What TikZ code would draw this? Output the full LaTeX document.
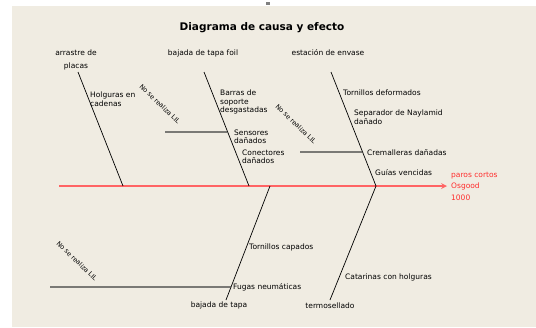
\documentclass[tikz,border=0pt]{standalone}
\usepackage{fontspec}
\setmainfont{DejaVu Sans}
\usetikzlibrary{arrows,shapes}
\usetikzlibrary{calc}
\definecolor{fondo}{RGB}{240,236,226}
\definecolor{rojo}{RGB}{255,100,100}
\definecolor{rojotexto}{RGB}{255,45,45}
\definecolor{gris}{RGB}{60,60,60}
\tikzstyle{causa}=[anchor=west,align=left,inner sep=0pt,font=\fontsize{7.5}{8.5}\selectfont]
\tikzstyle{rama}=[inner sep=0pt,font=\fontsize{7.5}{13}\selectfont]
\tikzstyle{nota}=[inner sep=0pt,rotate=-44,font=\fontsize{6.5}{8}\selectfont]
\tikzstyle{hueso} = [draw,black,line width=0.7pt]
\tikzstyle{subhueso} = [draw,gris,line width=1.1pt]
\tikzstyle{espina} = [draw,rojo,line width=1.6pt,->,>=stealth]

\begin{document}
\begin{tikzpicture}[x=1pt,y=-1pt]
    \useasboundingbox (0,0) rectangle (536,327);
    \fill[fondo] (12,6) rectangle (536,327);
    \fill[gray] (266,2) rectangle (270,5);

    \node[font=\bfseries\fontsize{10.5}{12}\selectfont] (titulo) at (262,28) {Diagrama de causa y efecto};

    % extremos de las espinas
    \coordinate (a1) at (78,72);
    \coordinate (a2) at (204,72);
    \coordinate (a3) at (331,72);
    \coordinate (e1) at (123,186);
    \coordinate (e2) at (249,186);
    \coordinate (e3) at (376,186);
    \coordinate (e4) at (270,186);
    \coordinate (b4) at (226,300);
    \coordinate (b5) at (330,300);
    \coordinate (cola) at (59,186);
    \coordinate (s1) at (165,132);
    \coordinate (s2) at (300,152);
    \coordinate (s3) at (50,287);

    % efecto y espina central
    \node[causa,text=rojotexto,font=\fontsize{7.5}{11.5}\selectfont,inner xsep=4pt] (efecto) at (447,186) {paros cortos\\Osgood\\1000};
    \path[espina] (cola) -- (efecto.west);

    % espinas de cada rama
    \foreach \desde/ \hasta in {a1/e1, a2/e2, a3/e3, e4/b4, e3/b5}
        \path[hueso] (\desde) -- (\hasta);
    \foreach \ini/ \arriba/ \abajo/ \frac in {s1/a2/e2/0.526, s2/a3/e3/0.702, s3/e4/b4/0.886}
        \path[subhueso] (\ini) -- ($(\arriba)!\frac!(\abajo)$);

    % nombres de las ramas
    \node[rama,align=center] (arrastre) at (76,59.5) {arrastre de\\placas};
    \node[rama] (foil) at (203,53) {bajada de tapa foil};
    \node[rama] (envase) at (328,53) {estación de envase};
    \node[rama] (bajada) at (219,305) {bajada de tapa};
    \node[rama] (termo) at (330,306) {termosellado};

    % causas
    \node[causa] (holguras) at (90,99) {Holguras en\\cadenas};
    \node[causa] (barras) at (220,102) {Barras de\\soporte\\desgastadas};
    \node[causa] (sensores) at (234,137) {Sensores\\dañados};
    \node[causa] (conectores) at (242,157) {Conectores\\dañados};
    \node[causa] (tornillos) at (343,93) {Tornillos deformados};
    \node[causa] (separador) at (354,117) {Separador de Naylamid\\dañado};
    \node[causa] (cremalleras) at (367,153) {Cremalleras dañadas};
    \node[causa] (guias) at (375,173) {Guías vencidas};
    \node[causa] (capados) at (249,247) {Tornillos capados};
    \node[causa] (fugas) at (233,287) {Fugas neumáticas};
    \node[causa] (catarinas) at (345,277) {Catarinas con holguras};

    \node[nota] (nota1) at (160,104) {No se realiza LIL};
    \node[nota] (nota2) at (296,124) {No se realiza LIL};
    \node[nota] (nota3) at (77,261) {No se realiza LIL};

\end{tikzpicture}
\end{document}
